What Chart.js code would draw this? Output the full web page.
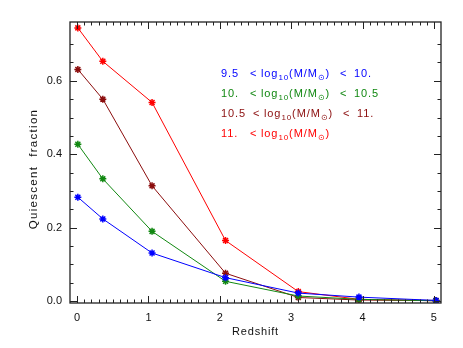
<!DOCTYPE html>
<html>
<head>
<meta charset="utf-8">
<script src="https://cdn.jsdelivr.net/npm/chart.js@4"></script>
<style>
  html, body { margin: 0; padding: 0; background: #fff; }
  #wrap { width: 463px; height: 348px; }
</style>
</head>
<body>
<div id="wrap"><canvas id="chart" width="463" height="348"></canvas></div>
<script>
// redshift bins
const redshift = [0.01, 0.36, 1.05, 2.08, 3.1, 3.95, 5.03];

// quiescent fraction per mass bin
const fracBin1 = [0.283, 0.224, 0.131, 0.064, 0.022, 0.011, 0.002]; // 9.5 - 10
const fracBin2 = [0.427, 0.333, 0.190, 0.054, 0.014, 0.005, 0.001]; // 10 - 10.5
const fracBin3 = [0.631, 0.550, 0.314, 0.076, 0.010, 0.003, 0.002]; // 10.5 - 11
const fracBin4 = [0.744, 0.653, 0.541, 0.165, 0.026, 0.005, 0.001]; // > 11

const binLow = ['9.5', '10.', '10.5', '11.'];
const binHigh = ['10.', '10.5', '11.', ''];
const binColors = ['#0000ff', '#118811', '#8b0d0d', '#ff0000'];

const xTicks = [0, 1, 2, 3, 4, 5];
const yTicks = [0, 0.2, 0.4, 0.6];

const FONT = '"Liberation Sans", Arial, sans-serif';

function pts(ys) {
    return ys.map((y, i) => ({x: redshift[i], y: y}));
}

// box + inward ticks on all four sides, axis titles, legend text
const framePlugin = {
    id: 'frame',
    afterDraw(chart) {
        const ctx = chart.ctx;
        const a = chart.chartArea;
        const xs = chart.scales.x, ys = chart.scales.y;
        ctx.save();
        ctx.strokeStyle = '#222';
        ctx.lineWidth = 1.3;
        ctx.strokeRect(a.left, a.top, a.right - a.left, a.bottom - a.top);

        ctx.lineWidth = 1;
        for (let v = 0; v <= 5.0001; v += 0.1) {
            const px = Math.round(xs.getPixelForValue(v)) + 0.5;
            const major = Math.abs(v - Math.round(v)) < 1e-6;
            const len = major ? 7 : 3.5;
            ctx.beginPath();
            ctx.moveTo(px, a.bottom); ctx.lineTo(px, a.bottom - len);
            ctx.moveTo(px, a.top); ctx.lineTo(px, a.top + len);
            ctx.stroke();
        }
        for (let v = 0; v <= 0.75; v += 0.05) {
            const py = Math.round(ys.getPixelForValue(v)) + 0.5;
            const major = Math.abs(v / 0.2 - Math.round(v / 0.2)) < 1e-6;
            const len = major ? 7 : 3.5;
            ctx.beginPath();
            ctx.moveTo(a.left, py); ctx.lineTo(a.left + len, py);
            ctx.moveTo(a.right, py); ctx.lineTo(a.right - len, py);
            ctx.stroke();
        }

        // axis titles
        ctx.fillStyle = '#111';
        ctx.textAlign = 'center';
        ctx.textBaseline = 'middle';
        ctx.font = '11px ' + FONT;
        ctx.letterSpacing = '0.8px';
        ctx.fillText('Redshift', (a.left + a.right) / 2, 332);
        ctx.save();
        ctx.translate(34, 169);
        ctx.rotate(-Math.PI / 2);
        ctx.font = '11.5px ' + FONT;
        ctx.letterSpacing = '1.3px';
        ctx.fillText('Quiescent  fraction', 0, 0);
        ctx.restore();

        // legend lines
        ctx.textAlign = 'left';
        ctx.textBaseline = 'alphabetic';
        ctx.letterSpacing = '0.9px';
        binLow.forEach((lo, i) => {
            const y = 77 + i * 20;
            const x0 = i === 2 ? 253 : 250;
            ctx.fillStyle = binColors[i];
            ctx.font = '11px ' + FONT;
            ctx.fillText(lo, 221, y);
            let x = x0;
            const put = (txt, size, dy) => {
                ctx.font = size + 'px ' + FONT;
                ctx.fillText(txt, x, y + dy);
                x += ctx.measureText(txt).width;
            };
            put('<', 11, 0);
            x = x0 + 11;
            put('log', 11, 0);
            put('10', 8, 3);
            put('(M/M', 11, 0);
            put('\u2299', 8, 3);
            put(')', 11, 0);
            if (binHigh[i]) {
                ctx.font = '11px ' + FONT;
                ctx.fillText('<', x0 + 90, y);
                ctx.fillText(binHigh[i], x0 + 104, y);
            }
        });
        ctx.restore();
    }
};

const datasets = [fracBin1, fracBin2, fracBin3, fracBin4].map((d, i) => ({
    data: pts(d),
    showLine: true,
    borderColor: binColors[i],
    backgroundColor: binColors[i],
    borderWidth: 1,
    pointStyle: 'star',
    pointRadius: 3.5,
    pointBorderWidth: 1.5,
    pointHoverRadius: 3.5
}));

new Chart(document.getElementById('chart'), {
    type: 'scatter',
    data: {datasets},
    plugins: [framePlugin],
    options: {
        responsive: false,
        animation: false,
        layout: {padding: {left: 0, top: 22, right: 22, bottom: 0}},
        plugins: {legend: {display: false}, tooltip: {enabled: false}},
        scales: {
            x: {
                type: 'linear',
                min: -0.1, max: 5.1,
                afterFit(s) { s.height = 45; },
                afterBuildTicks(s) { s.ticks = xTicks.map(v => ({value: v})); },
                grid: {display: false, drawTicks: false},
                border: {display: false},
                ticks: {
                    padding: 8,
                    color: '#111',
                    font: {family: FONT, size: 11},
                    callback: v => String(v)
                }
            },
            y: {
                min: -0.005, max: 0.76,
                afterFit(s) { s.width = 70; },
                afterBuildTicks(s) { s.ticks = yTicks.map(v => ({value: v})); },
                grid: {display: false, drawTicks: false},
                border: {display: false},
                ticks: {
                    padding: 8,
                    color: '#111',
                    font: {family: FONT, size: 11},
                    callback: v => v.toFixed(1)
                }
            }
        }
    }
});
</script>
</body>
</html>
